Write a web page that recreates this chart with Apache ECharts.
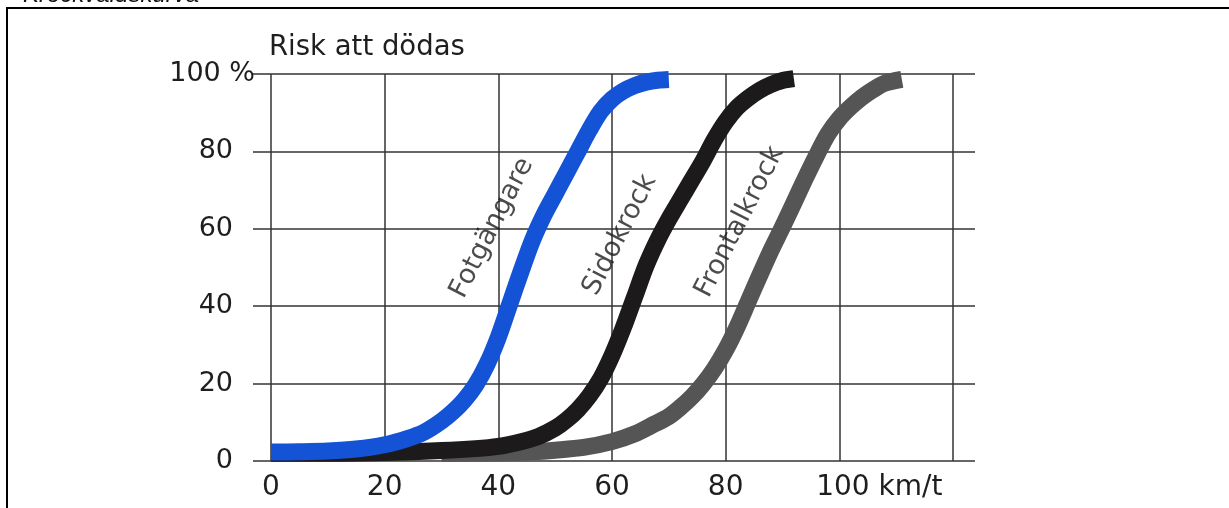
<!DOCTYPE html>
<html>
<head>
<meta charset="utf-8">
<script src="https://cdn.jsdelivr.net/npm/echarts@6/dist/echarts.min.js"></script>
<style>
html,body{margin:0;padding:0;background:#fff;}
#c{width:1229px;height:508px;}
</style>
</head>
<body>
<div id="c"></div>
<script>
// ---- data ----
const chartTitle = 'Krockvåldskurva';
const yAxisTitle = 'Risk att dödas';
const xTicks = [0, 20, 40, 60, 80, 100, 120];
const yTicks = [0, 20, 40, 60, 80, 100];

const fotgangareSpeed = [0, 5, 10, 15, 20, 24, 27, 30, 32, 34, 36, 38, 40, 42, 44, 46, 48, 50, 52, 54, 56, 58, 60, 62, 64, 66, 68, 70];
const fotgangareRisk  = [2.3, 2.4, 2.6, 3.1, 4.2, 5.8, 7.5, 10.3, 12.7, 15.7, 19.6, 25, 32, 40.5, 49, 57, 63.5, 69, 74.5, 80, 85.5, 90.3, 93.5, 95.6, 97, 97.9, 98.4, 98.6];

const sidokrockSpeed = [0, 10, 20, 30, 36, 40, 44, 47, 50, 52, 54, 56, 58, 60, 62, 64, 66, 68, 70, 72, 74, 76, 78, 80, 82, 84, 86, 88, 90, 92];
const sidokrockRisk  = [2, 2, 2.2, 2.7, 3.2, 3.8, 5, 6.3, 8.5, 10.6, 13.3, 16.8, 21.3, 27.3, 34.5, 42.5, 50.5, 57, 62.5, 67.5, 72.5, 77.5, 83, 87.7, 91.3, 93.8, 95.8, 97.3, 98.3, 98.8];

const frontalSpeed = [30, 40, 46, 50, 55, 60, 64, 67, 70, 72, 74, 76, 78, 80, 82, 84, 86, 88, 90, 92, 94, 96, 98, 100, 102, 104, 106, 108, 111];
const frontalRisk  = [2, 2.1, 2.4, 2.8, 3.5, 5, 7, 9.2, 11.5, 13.8, 16.5, 19.8, 23.8, 28.7, 34.6, 41.3, 48, 54.5, 60.5, 66.7, 73, 79, 84.5, 88.5, 91.5, 94, 96, 97.6, 98.6];

const curveNames = ['Fotgängare', 'Sidokrock', 'Frontalkrock'];
const labelSpeed = [38.9, 61.4, 82.5];
const labelRisk  = [60.2, 58.4, 61.8];

const zip = (a, b) => a.map((v, i) => [v, b[i]]);

const chart = echarts.init(document.getElementById('c'), null, {renderer: 'canvas'});
const FONT = 'DejaVu Sans';
const lineCol = '#333';
const textCol = '#1e1e1e';

const curveStyle = (color) => ({
  type: 'line',
  xAxisIndex: 1, yAxisIndex: 1,
  showSymbol: false,
  symbol: 'none',
  smooth: 0.3,
  silent: true,
  lineStyle: {color: color, width: 17, cap: 'butt', join: 'round'},
  z: 3
});

chart.setOption({
  backgroundColor: '#fff',
  animation: false,
  title: {
    text: chartTitle,
    left: 18, top: -22,
    textStyle: {fontFamily: 'Liberation Sans', fontStyle: 'italic', fontWeight: 'normal', fontSize: 24, color: '#111'}
  },
  graphic: [{
    type: 'rect',
    shape: {x: 7, y: 8, width: 1300, height: 600},
    style: {fill: 'none', stroke: '#000', lineWidth: 2},
    silent: true, z: 0
  }],
  grid: [
    {left: 253, top: 74, width: 722, height: 387},
    {left: 271, top: 74, width: 682, height: 387}
  ],
  xAxis: [
    {type: 'value', gridIndex: 0, min: -3.167, max: 123.88, show: false},
    {
      type: 'value', gridIndex: 1, min: xTicks[0], max: xTicks[xTicks.length - 1], interval: 20,
      axisLine: {show: false}, axisTick: {show: false},
      splitLine: {show: true, lineStyle: {color: lineCol, width: 1.5}},
      axisLabel: {
        margin: 13,
        fontFamily: FONT, fontSize: 28, color: textCol,
        formatter: (v) => v === 120 ? '' : (v === 100 ? '{p| }{n|100}{u| km/t}' : String(v)),
        rich: {
          p: {width: 80, fontFamily: FONT, fontSize: 28},
          n: {fontFamily: FONT, fontSize: 28, color: textCol},
          u: {fontFamily: FONT, fontSize: 28, color: textCol}
        }
      }
    }
  ],
  yAxis: [
    {
      type: 'value', gridIndex: 0, min: 0, max: 100, interval: 20,
      axisLine: {show: false}, axisTick: {show: false}, axisLabel: {show: false},
      splitLine: {show: true, lineStyle: {color: lineCol, width: 1.5}}
    },
    {
      type: 'value', gridIndex: 1, min: yTicks[0], max: yTicks[yTicks.length - 1], interval: 20,
      axisLine: {show: false}, axisTick: {show: false}, splitLine: {show: false},
      name: yAxisTitle,
      nameLocation: 'end',
      nameGap: 12,
      nameTextStyle: {fontFamily: FONT, fontSize: 27.5, color: textCol, align: 'left', padding: [0, 0, 0, -2]},
      axisLabel: {
        margin: 16,
        fontFamily: FONT, fontSize: 27, color: textCol,
        formatter: (v) => v === 100 ? '{n|100 %}' : '{n|' + v + '}{p| }',
        rich: {
          n: {fontFamily: FONT, fontSize: 27, color: textCol},
          p: {width: 22, fontFamily: FONT, fontSize: 27}
        }
      }
    }
  ],
  series: [
    Object.assign(curveStyle('#555555'), {name: curveNames[2], data: zip(frontalSpeed, frontalRisk)}),
    Object.assign(curveStyle('#1c1a1a'), {name: curveNames[1], data: zip(sidokrockSpeed, sidokrockRisk)}),
    Object.assign(curveStyle('#1453d6'), {name: curveNames[0], data: zip(fotgangareSpeed, fotgangareRisk)}),
    {
      type: 'scatter',
      xAxisIndex: 1, yAxisIndex: 1,
      symbol: 'circle',
      symbolSize: 0,
      itemStyle: {color: textCol},
      silent: true,
      z: 5,
      data: curveNames.map((n, i) => ({name: n, value: [labelSpeed[i], labelRisk[i]]})),
      label: {
        show: true, position: 'inside', rotate: 63,
        formatter: (p) => p.name,
        fontFamily: FONT, fontSize: 27, color: textCol,
        textBorderWidth: 0
      }
    }
  ]
});
</script>
</body>
</html>
